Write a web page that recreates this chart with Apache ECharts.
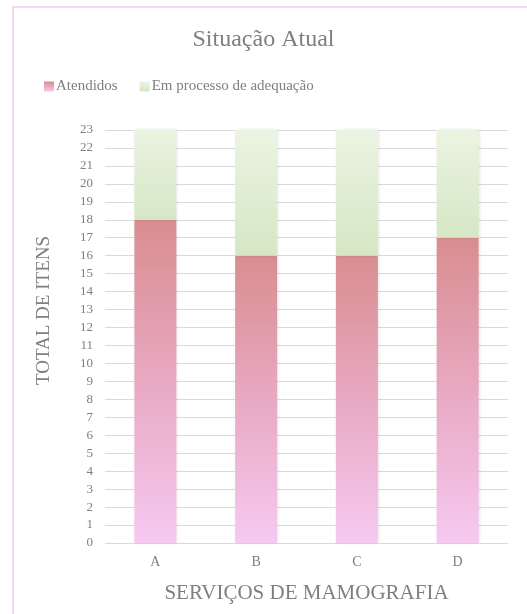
<!DOCTYPE html>
<html>
<head>
<meta charset="utf-8">
<script src="https://cdn.jsdelivr.net/npm/echarts@6/dist/echarts.min.js"></script>
<style>
  html, body { margin: 0; padding: 0; background: #fff; width: 527px; height: 614px; overflow: hidden; }
  #chart { position: absolute; left: 0; top: 0; width: 527px; height: 614px; }
</style>
</head>
<body>
<div id="chart"></div>
<script>
const categories = ['A', 'B', 'C', 'D'];
const atendidos = [18, 16, 16, 17];
const emProcesso = [5, 7, 7, 6];
const seriesNames = ['Atendidos', 'Em processo de adequação'];

const font = 'Liberation Serif, Times New Roman, serif';
const grey = '#7f7f7f';

const chart = echarts.init(document.getElementById('chart'), null, { renderer: 'canvas' });

// Per-bar vertical gradients
const redGrad = new echarts.graphic.LinearGradient(0, 0, 0, 1, [
  { offset: 0, color: '#d98d8f' },
  { offset: 0.5, color: '#e8a9c2' },
  { offset: 1, color: '#f6c9f1' }
]);
const greenGrad = new echarts.graphic.LinearGradient(0, 0, 0, 1, [
  { offset: 0, color: '#ebf4e2' },
  { offset: 1, color: '#d5e7c5' }
]);

chart.setOption({
  animation: false,
  backgroundColor: '#ffffff',
  graphic: [
    {
      // chart-area frame: left and top edges
      type: 'polyline',
      silent: true,
      shape: { points: [[13, 640], [13, 7], [560, 7]] },
      style: { stroke: '#fbd3f1', lineWidth: 2, fill: null }
    }
  ],
  title: {
    text: 'Situação Atual',
    left: 'center',
    top: 23,
    textStyle: { fontFamily: font, fontSize: 24, fontWeight: 'normal', color: grey }
  },
  legend: {
    left: 39,
    top: 74,
    itemWidth: 10,
    itemHeight: 10,
    itemGap: 22,
    icon: 'rect',
    textStyle: { fontFamily: font, fontSize: 15, color: grey, padding: [0, 0, 0, -3] },
    data: seriesNames
  },
  grid: { left: 105, right: 19, top: 130, bottom: 71 },
  xAxis: {
    type: 'category',
    data: categories,
    name: 'SERVIÇOS DE MAMOGRAFIA',
    nameLocation: 'middle',
    nameGap: 40,
    nameTextStyle: { fontFamily: font, fontSize: 21, color: grey },
    axisLine: { show: false },
    axisTick: { show: false },
    axisLabel: { fontFamily: font, fontSize: 14, color: grey, margin: 12 }
  },
  yAxis: {
    type: 'value',
    min: 0,
    max: 23,
    interval: 1,
    name: 'TOTAL DE ITENS',
    nameLocation: 'middle',
    nameRotate: 90,
    nameGap: 51,
    nameTextStyle: { fontFamily: font, fontSize: 19, color: grey, padding: [0, 0, 0, 52] },
    axisLine: { show: false },
    axisTick: { show: false },
    axisLabel: { fontFamily: font, fontSize: 13, color: grey, margin: 12 },
    splitLine: { lineStyle: { color: '#d9d9d9', width: 1 } }
  },
  series: [
    {
      name: seriesNames[0],
      type: 'bar',
      stack: 'total',
      barWidth: 42,
      data: atendidos,
      itemStyle: { color: redGrad, shadowColor: 'rgba(0,0,0,0.12)', shadowBlur: 3, shadowOffsetX: 1 }
    },
    {
      name: seriesNames[1],
      type: 'bar',
      stack: 'total',
      barWidth: 42,
      data: emProcesso,
      itemStyle: { color: greenGrad, shadowColor: 'rgba(0,0,0,0.12)', shadowBlur: 3, shadowOffsetX: 1 }
    }
  ]
});
</script>
</body>
</html>
